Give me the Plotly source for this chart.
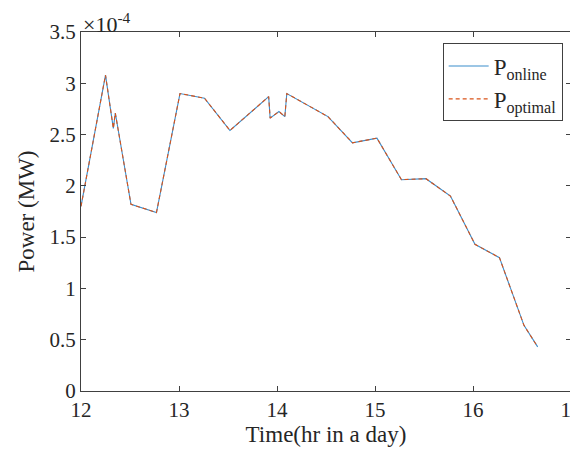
import plotly.graph_objects as go

time_hr = [12.0, 12.25, 12.33, 12.35, 12.51, 12.77, 13.01, 13.26, 13.52, 13.915, 13.93,
           14.02, 14.08, 14.10, 14.52, 14.77, 15.02, 15.27, 15.52, 15.77, 16.02, 16.27,
           16.52, 16.66]
p_online = [1.80, 3.08, 2.56, 2.71, 1.82, 1.74, 2.90, 2.855, 2.54, 2.87, 2.66,
            2.725, 2.675, 2.90, 2.675, 2.42, 2.465, 2.06, 2.07, 1.90, 1.43, 1.30,
            0.64, 0.43]
p_optimal = [1.80, 3.08, 2.56, 2.71, 1.82, 1.74, 2.90, 2.855, 2.54, 2.87, 2.66,
             2.725, 2.675, 2.90, 2.675, 2.42, 2.465, 2.06, 2.07, 1.90, 1.43, 1.30,
             0.64, 0.43]
x_ticks = [12, 13, 14, 15, 16, 17]
x_tick_labels = ["12", "13", "14", "15", "16", "17"]
y_ticks = [0, 0.5, 1, 1.5, 2, 2.5, 3, 3.5]
y_tick_labels = ["0", "0.5", "1", "1.5", "2", "2.5", "3", "3.5"]

font = "Liberation Serif, serif"
axcol = "#404040"
txtcol = "#262626"

fig = go.Figure()
fig.add_trace(go.Scatter(x=time_hr, y=p_online, mode="lines",
                         line=dict(color="#3a8dcc", width=1.1),
                         name="P<sub>online</sub>"))
fig.add_trace(go.Scatter(x=time_hr, y=p_optimal, mode="lines",
                         line=dict(color="#D95319", width=1.1, dash="4px,3px"),
                         name="P<sub>optimal</sub>"))

# page body has an 8px default margin, so the figure is offset by 8px
fig.update_layout(
    width=570, height=452, autosize=False,
    margin=dict(l=73, r=7, t=24, b=69),
    paper_bgcolor="white", plot_bgcolor="white",
    font=dict(family=font, color=txtcol, size=21),
    showlegend=True,
    legend=dict(x=0.983, y=0.968, xanchor="right", yanchor="top",
                bordercolor=axcol, borderwidth=1, bgcolor="white",
                font=dict(family=font, size=23, color=txtcol),
                tracegroupgap=0, itemwidth=40),
    xaxis=dict(range=[12, 17], tickmode="array", tickvals=x_ticks, ticktext=x_tick_labels,
               showgrid=False, zeroline=False, showline=True, linecolor=axcol,
               linewidth=1, mirror="ticks", ticks="inside", ticklen=5,
               tickcolor=axcol, automargin=False, ticklabeloverflow="allow",
               tickfont=dict(family=font, size=21, color=txtcol),
               title=dict(text="Time(hr in a day)",
                          font=dict(family=font, size=23, color=txtcol), standoff=4)),
    yaxis=dict(range=[0, 3.5], tickmode="array", tickvals=y_ticks, ticktext=y_tick_labels,
               showgrid=False, zeroline=False, showline=True, linecolor=axcol,
               linewidth=1, mirror="ticks", ticks="inside", ticklen=5,
               tickcolor=axcol, automargin=False,
               tickfont=dict(family=font, size=21, color=txtcol),
               title=dict(text="Power (MW)",
                          font=dict(family=font, size=23, color=txtcol), standoff=8)),
    annotations=[dict(text="×10<sup>-4</sup>", xref="paper", yref="paper",
                      x=0.0, y=1.0, xanchor="left", yanchor="bottom", yshift=-7,
                      showarrow=False, font=dict(family=font, size=22, color=txtcol))],
)

fig.write_html("out.html")
